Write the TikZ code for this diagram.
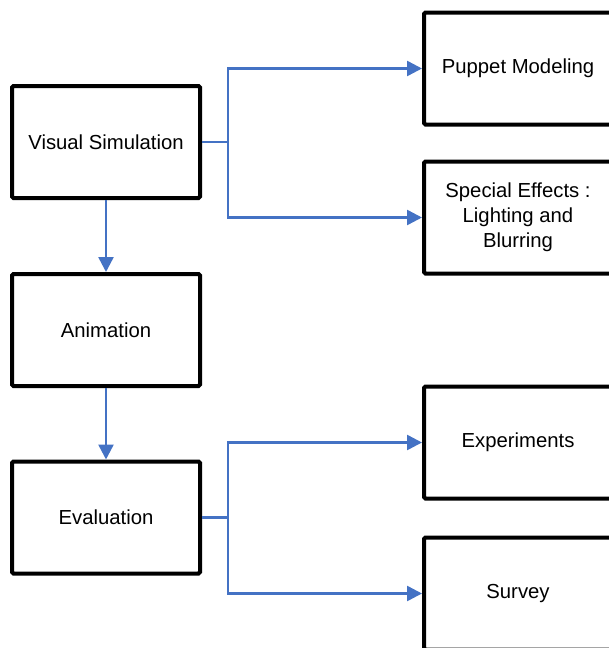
\documentclass[tikz,border=0pt]{standalone}
\usepackage{fontspec}
\setmainfont{Liberation Sans}
\usetikzlibrary{arrows.meta}
\definecolor{connblue}{HTML}{4472C4}
\begin{document}
\begin{tikzpicture}[x=1pt,y=-1pt,
  box/.style={draw=black,line width=4pt,rounded corners=1.5pt,fill=white,
    minimum width=188pt,minimum height=112pt,inner sep=0pt,align=center,
    font=\fontsize{20.3}{25}\selectfont},
  conn/.style={draw=connblue,line width=2.5pt,-{Triangle[length=15pt,width=15pt]}}]
\useasboundingbox (0,0) rectangle (609,648);
\clip (0,0) rectangle (609,648);
\fill[white] (0,0) rectangle (609,648);
\node[box] (vs) at (106,142) {Visual Simulation};
\node[box] (an) at (106,330) {Animation};
\node[box] (ev) at (106,517.5) {Evaluation};
\node[box] (pm) at (518,68.5) {Puppet Modeling};
\node[box] (se) at (518,217.5) {Special Effects :\\Lighting and\\Blurring};
\node[box] (ex) at (518,442.5) {Experiments};
\node[box] (sv) at (518,593.5) {Survey};
\coordinate (j1) at (228,142);
\coordinate (j2) at (228,517.5);
\draw[conn] (vs.east) -- (j1) |- (pm.west);
\draw[conn] (j1) |- (se.west);
\draw[conn] (ev.east) -- (j2) |- (ex.west);
\draw[conn] (j2) |- (sv.west);
\draw[conn] (vs.south) -- (an.north);
\draw[conn] (an.south) -- (ev.north);
\end{tikzpicture}
\end{document}
